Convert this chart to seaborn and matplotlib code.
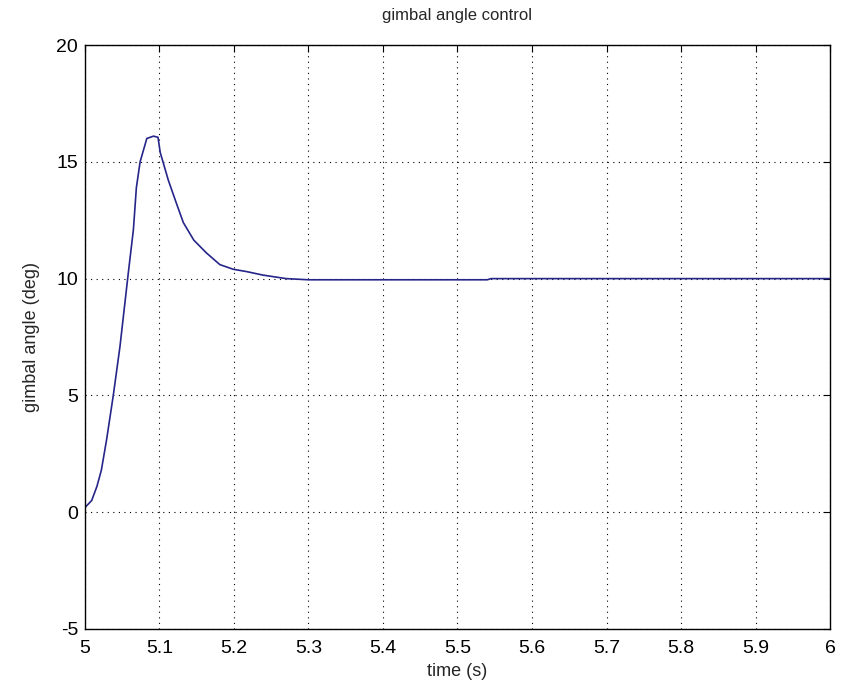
import pandas as pd
import matplotlib
matplotlib.use("Agg")
import matplotlib.pyplot as plt
import seaborn as sns

# values
time_s = [5.000, 5.009, 5.016, 5.022, 5.029, 5.038, 5.047, 5.058, 5.065, 5.069,
          5.074, 5.083, 5.092, 5.098, 5.101, 5.112, 5.123, 5.132, 5.146, 5.163,
          5.181, 5.199, 5.217, 5.239, 5.270, 5.300, 5.400, 5.500, 5.540, 5.545,
          5.700, 6.000]
angle_deg = [0.2, 0.5, 1.1, 1.8, 3.1, 5.0, 7.1, 10.2, 12.1, 13.9,
             15.0, 16.0, 16.1, 16.05, 15.4, 14.2, 13.2, 12.4, 11.65, 11.1,
             10.6, 10.4, 10.3, 10.15, 10.0, 9.95, 9.95, 9.95, 9.95, 10.0,
             10.0, 10.0]
x_ticks = [5, 5.1, 5.2, 5.3, 5.4, 5.5, 5.6, 5.7, 5.8, 5.9, 6]
x_labels = ["5", "5.1", "5.2", "5.3", "5.4", "5.5", "5.6", "5.7", "5.8", "5.9", "6"]
y_ticks = [-5, 0, 5, 10, 15, 20]

df = pd.DataFrame({"time": time_s, "angle": angle_deg})

sns.set_style("white")
plt.rcParams['font.family'] = ['Liberation Sans', 'DejaVu Sans']
plt.rcParams['axes.unicode_minus'] = False

fig = plt.figure(figsize=(8.43, 6.93), dpi=100)
ax = fig.add_axes([0.1008, 0.0924, 0.8838, 0.8426])

sns.lineplot(data=df, x="time", y="angle", sort=False, color="#25258a",
             linewidth=1.2, ax=ax)

ax.set_xlim(5, 6)
ax.set_ylim(-5, 20)
ax.set_xticks(x_ticks)
ax.set_xticklabels(x_labels)
ax.set_yticks(y_ticks)
ax.grid(True, color="black", linestyle=(0, (1, 4)), linewidth=0.8)
ax.tick_params(direction="in", top=True, right=True, length=5, labelsize=14,
               colors="black")
ax.tick_params(axis="x", pad=8)
ax.tick_params(axis="y", pad=5)
for sp in ax.spines.values():
    sp.set_color("black")
    sp.set_linewidth(1.0)

ax.set_xlabel("time (s)", fontsize=13, labelpad=4)
ax.set_ylabel("gimbal angle (deg)", fontsize=13, labelpad=12)
ax.set_title("gimbal angle control", fontsize=12, pad=18)

fig.savefig("out.png", dpi=100)
